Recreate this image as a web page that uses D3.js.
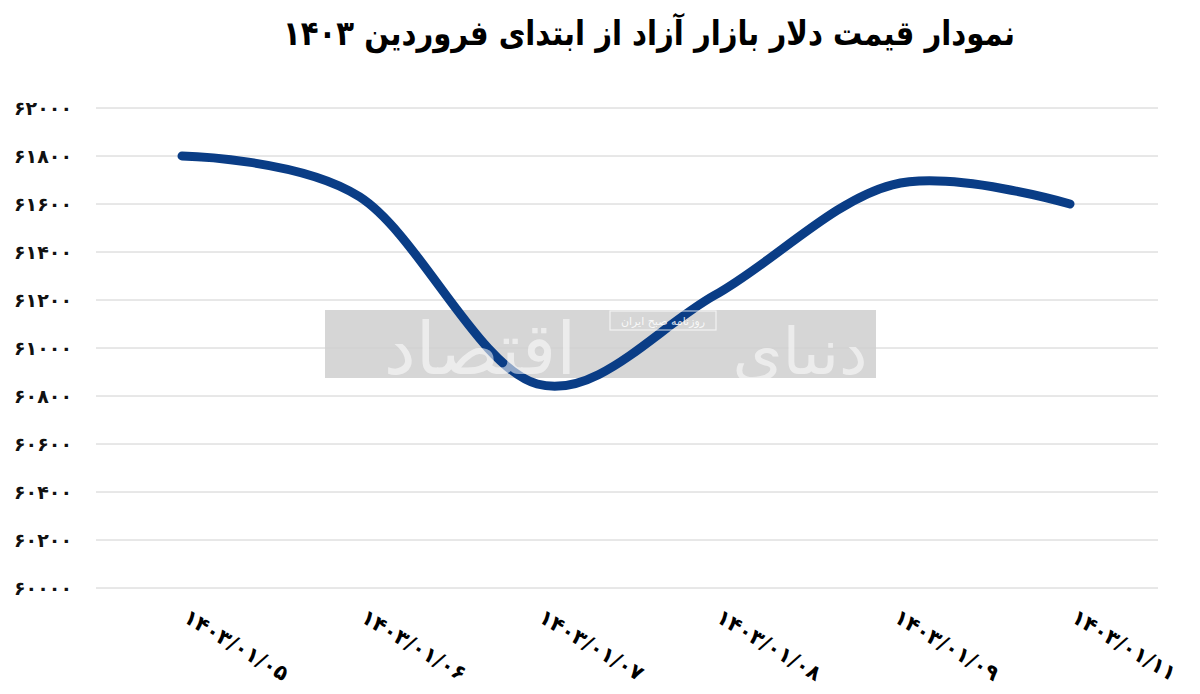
<!DOCTYPE html>
<html><head><meta charset="utf-8">
<script src="https://cdn.jsdelivr.net/npm/d3@7"></script>
<style>
html,body{margin:0;padding:0;background:#fff;}
svg{display:block;}
</style></head>
<body>
<svg id="c" width="1200" height="694"></svg>
<script>
const title = "نمودار قیمت دلار بازار آزاد از ابتدای فروردین ۱۴۰۳";
const categories = ["1403/01/05","1403/01/06","1403/01/07","1403/01/08","1403/01/09","1403/01/11"];
const values = [61800, 61630, 60850, 61220, 61680, 61600];
const yTicks = [60000,60200,60400,60600,60800,61000,61200,61400,61600,61800,62000];

const fa = s => String(s).replace(/[0-9]/g, d => "۰۱۲۳۴۵۶۷۸۹"[+d]);

const svg = d3.select("#c");
const x = d3.scalePoint().domain(categories).range([182, 1070]);
const y = d3.scaleLinear().domain([60000, 62000]).range([588, 108]);

// watermark background
svg.append("rect").attr("x",325).attr("y",310).attr("width",551).attr("height",68).attr("fill","#d6d6d6");

// grid
svg.append("g").selectAll("line").data(yTicks).join("line")
  .attr("x1",96).attr("x2",1158)
  .attr("y1",d=>y(d)).attr("y2",d=>y(d))
  .attr("stroke","#d0d0d0").attr("stroke-width",1);

// y labels
svg.append("g").selectAll("text").data(yTicks).join("text")
  .attr("x",72).attr("y",d=>y(d)).attr("dy","0.35em")
  .attr("text-anchor","end")
  .attr("font-family","DejaVu Sans").attr("font-weight","bold").attr("font-size",19)
  .attr("fill","#111")
  .style("direction","ltr")
  .text(d=>fa(d));

// x labels
svg.append("g").selectAll("text").data(categories).join("text")
  .attr("transform",d=>`translate(${x(d)},${621}) rotate(31)`)
  .attr("text-anchor","start")
  .attr("font-family","DejaVu Sans").attr("font-weight","bold").attr("font-size",21)
  .attr("fill","#000")
  .style("direction","ltr").style("unicode-bidi","bidi-override")
  .text(d=>fa(d));

// line
const line = d3.line().x((d,i)=>x(categories[i])).y(d=>y(d)).curve(d3.curveCardinal.tension(0));
svg.append("path").datum(values).attr("d",line)
  .attr("fill","none").attr("stroke","#0a3d86").attr("stroke-width",9)
  .attr("stroke-linecap","round").attr("stroke-linejoin","round");

// watermark text
svg.append("text").attr("x",480).attr("y",374).attr("text-anchor","middle")
  .attr("font-family","DejaVu Sans").attr("font-size",72)
  .attr("fill","#fff").attr("opacity",0.55).style("direction","rtl")
  .text("اقتصاد");
svg.append("text").attr("x",800).attr("y",374).attr("text-anchor","middle")
  .attr("font-family","DejaVu Sans").attr("font-size",64)
  .attr("fill","#fff").attr("opacity",0.55).style("direction","rtl")
  .text("دنیای");
svg.append("rect").attr("x",610).attr("y",311).attr("width",106).attr("height",19)
  .attr("fill","none").attr("stroke","#fff").attr("stroke-width",1.2).attr("opacity",0.7);
svg.append("text").attr("x",663).attr("y",325).attr("text-anchor","middle")
  .attr("font-family","DejaVu Sans").attr("font-size",11)
  .attr("fill","#fff").attr("opacity",0.85).style("direction","rtl")
  .text("روزنامه صبح ایران");

// title
svg.append("text").attr("x",649).attr("y",45).attr("text-anchor","middle")
  .attr("font-family","DejaVu Sans").attr("font-weight","bold").attr("font-size",34)
  .attr("textLength",732).attr("lengthAdjust","spacingAndGlyphs")
  .attr("fill","#000").style("direction","rtl")
  .text(title);
</script>
</body></html>
